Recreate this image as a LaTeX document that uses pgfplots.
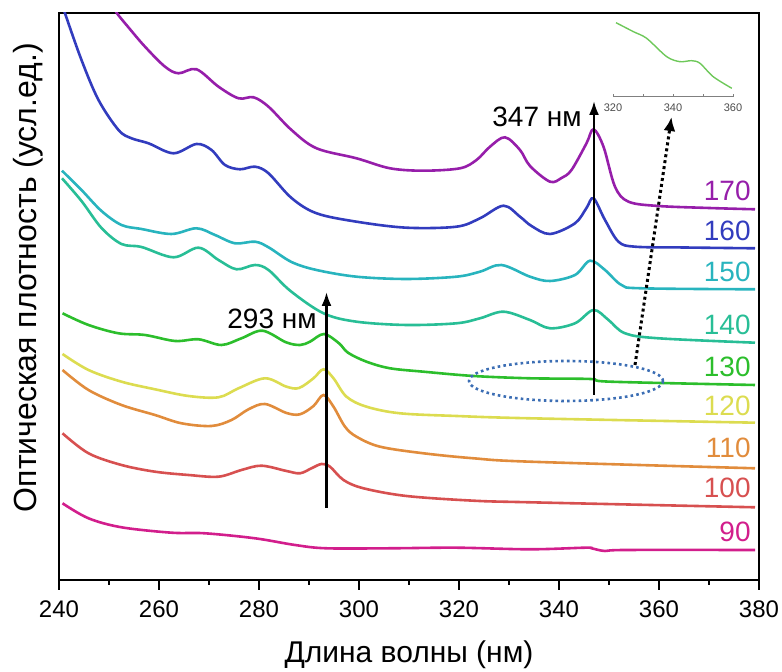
\documentclass[border=0pt]{standalone}
\usepackage{fontspec}
\setmainfont{Liberation Sans}
\usepackage{pgfplots}
\pgfplotsset{compat=1.18}
\usetikzlibrary{arrows.meta}

\definecolor{c170}{HTML}{961EAA}
\definecolor{c160}{HTML}{323CBE}
\definecolor{c150}{HTML}{28B4BE}
\definecolor{c140}{HTML}{28BE96}
\definecolor{c130}{HTML}{2CBE2C}
\definecolor{c120}{HTML}{DCDC50}
\definecolor{c110}{HTML}{E18C3C}
\definecolor{c100}{HTML}{D75050}
\definecolor{c90}{HTML}{D21E8C}
\definecolor{cinset}{HTML}{6EC85A}
\definecolor{cell}{HTML}{3C6EB4}

% y values are the negated pixel rows of the reference (arbitrary units, shifted curves)
\begin{document}
\begin{tikzpicture}
\useasboundingbox (-29.5pt,-46pt) rectangle (361.5pt,290pt);
\begin{axis}[
  scale only axis, width=350pt, height=283.5pt,
  xmin=240, xmax=380, ymin=-580, ymax=-13,
  xtick={240,260,...,380}, minor x tick num=1,
  ytick=\empty,
  xtick pos=bottom, tick align=outside,
  major tick length=5pt, minor tick length=2.5pt,
  axis line style={line width=1pt},
  every tick/.style={black, line width=0.8pt},
  ticklabel style={font=\fontsize{12}{14}\selectfont},
  xticklabel style={yshift=-2pt},
  /pgf/number format/assume math mode=true,
  xlabel={Длина волны (нм)},
  ylabel={Оптическая плотность (усл.ед.)},
  xlabel style={font=\fontsize{15}{18}\selectfont, at={(axis description cs:0.5,-0.132)}, anchor=center},
  ylabel style={font=\fontsize{16}{18}\selectfont, at={(axis description cs:-0.044,0.533)}, anchor=center},
  every axis plot/.append style={line width=1.3pt, smooth, tension=0.55, no markers},
]
% 170
\addplot[c170] coordinates {
(250.8,-5)(251.6,-13.3)(254,-28)(257.2,-46.7)(261.2,-66.7)(263.9,-73.3)(267.5,-69.3)(271.9,-86.7)
(275.9,-98.3)(278.9,-97.3)(281.9,-106.7)(286.5,-130)(291.5,-148.3)(299.5,-158.3)(306.2,-168.3)
(312.9,-170.7)(320.2,-168.3)(323.5,-160)(326.2,-146.7)(329.2,-137.3)(332.2,-150)(334.2,-166)
(338.2,-181.7)(340.5,-178)(342.5,-170)(345.5,-143.3)(346.9,-129.3)(348.9,-146.7)(351.2,-186.7)
(353.9,-201.7)(359.9,-206)(370,-208)(379.2,-209.3)};
% 160
\addplot[c160] coordinates {
(240.9,-8)(241.2,-13.3)(244.5,-60)(247.9,-100)(251.9,-130)(254.5,-138.3)(257.9,-143.3)(262.9,-153.3)
(267.5,-144)(270.5,-150)(273.2,-165)(276.2,-169.3)(279.2,-166.7)(281.9,-173.3)(286.5,-198)
(291.5,-213.3)(299.5,-221.7)(309.5,-227.7)(319.5,-226.7)(324.2,-218.3)(328.9,-205.7)(332.2,-216.7)
(334.5,-226)(338.2,-234)(343.2,-223.3)(345.5,-208)(346.9,-198.3)(349.2,-220)(351.9,-241.7)
(355.2,-246.7)(365,-247.5)(379.2,-248.3)};
% 150
\addplot[c150] coordinates {
(240.6,-170.7)(244.5,-190)(248.5,-211)(252.5,-225)(256.5,-229)(262.5,-234)(267.5,-228.3)
(271.2,-235)(275.2,-243.3)(279.2,-241.7)(281.9,-247.3)(286.5,-262)(291.5,-270)(299.5,-276.7)
(309.5,-279)(319.5,-276.7)(324.2,-271.7)(328.5,-265)(334.2,-276.7)(338.2,-281)(343.2,-275)
(346.2,-260.7)(349.2,-270)(352.5,-285)(356.5,-288.3)(379.2,-289.3)};
% 140
\addplot[c140] coordinates {
(240.6,-178.3)(244.5,-201)(248.5,-228)(252.5,-244)(256.5,-247)(262.9,-257.3)(267.9,-247.7)
(271.9,-260)(275.5,-269.3)(279.2,-265)(281.9,-270)(286.3,-291)(292.9,-313.3)(299.5,-321.7)
(309.5,-325)(319.5,-323.3)(324.2,-318.3)(328.9,-311.7)(334.2,-320)(338.2,-328.3)(343.2,-323.3)
(346.9,-310)(349.9,-320)(353.2,-333.3)(359.9,-338.3)(379.2,-342.7)};
% 130
\addplot[c130] coordinates {
(240.7,-313.3)(245.9,-325)(251.9,-333.3)(257.2,-335)(263.2,-341)(267.9,-339.3)(272.5,-345)
(276.5,-338.3)(280.7,-330.7)(285.4,-342.3)(288.2,-345)(290.2,-341.7)(293,-334)(296,-343.3)
(297.8,-352.7)(301.5,-361.7)(306.2,-368.3)(312.9,-371.7)(322.9,-376)(334.2,-378.3)(346.3,-379)
(350.3,-381.7)(379.2,-385)};
% 120
\addplot[c120] coordinates {
(240.7,-354)(245.9,-370)(252.5,-381.7)(259.2,-389.3)(265.9,-396)(271.9,-397.3)(275.9,-388.3)
(281.2,-378.3)(285.5,-386.7)(288,-388)(290.9,-378.3)(292.9,-369.3)(294.9,-378.3)(297.5,-396.7)
(301.5,-406.7)(308.2,-413.3)(319.5,-416)(334.2,-418.3)(379.2,-422.7)};
% 110
\addplot[c110] coordinates {
(240.7,-370)(245.9,-390)(252.5,-405)(259.2,-415)(264.5,-423.3)(270.5,-426)(274.5,-420)
(277.9,-409.3)(281.2,-404)(285.5,-413)(288.2,-414.3)(290.9,-406)(292.9,-395)(294.9,-406.7)
(297.2,-426.7)(299.5,-436.7)(304.2,-446.7)(312.9,-453.3)(322.9,-458.3)(334.2,-461.7)(379.2,-468.3)};
% 100
\addplot[c100] coordinates {
(240.7,-433.3)(245.9,-453.3)(252.5,-465)(259.2,-471.7)(265.9,-475)(271.9,-476.7)(276.5,-470)
(280.5,-465.7)(285.5,-471)(288.2,-473.3)(290.5,-468.3)(292.5,-464)(294.2,-466.7)(296.9,-480)
(300.9,-488.3)(309.5,-496)(322.9,-500.7)(334.2,-502.3)(379.2,-507.3)};
% 90
\addplot[c90] coordinates {
(240.7,-503.3)(245.9,-518.3)(252.5,-527.3)(262.5,-532.7)(269.2,-533.3)(279.2,-538.3)(287.2,-545)
(293.5,-548.3)(306.2,-548.3)(319.5,-547.7)(334.2,-549.3)(345.2,-547.7)(346.5,-548.3)(349.2,-551)
(353.2,-550)(379.2,-550)};

% sample labels
\begin{scope}[every node/.style={anchor=east, inner sep=0pt, font=\fontsize{14}{16}\selectfont}]
\node[text=c170] at (axis cs:378.4,-190.7) {170};
\node[text=c160] at (axis cs:378.4,-231) {160};
\node[text=c150] at (axis cs:378.4,-271.7) {150};
\node[text=c140] at (axis cs:378.4,-325) {140};
\node[text=c130] at (axis cs:378.4,-366.7) {130};
\node[text=c120] at (axis cs:378.4,-406) {120};
\node[text=c110] at (axis cs:378.4,-448) {110};
\node[text=c100] at (axis cs:378.4,-488) {100};
\node[text=c90]  at (axis cs:378.4,-531.7) {90};
\end{scope}

% annotations
\draw[line width=1.2pt, -{Latex[length=7pt, width=5pt]}] (axis cs:293.5,-508) -- (axis cs:293.5,-292);
\draw[line width=1.2pt, -{Latex[length=7pt, width=5pt]}] (axis cs:347,-395) -- (axis cs:347,-101);
\node[font=\fontsize{14}{16}\selectfont, inner sep=0pt] at (axis cs:282.6,-319) {293 нм};
\node[font=\fontsize{14}{16}\selectfont, inner sep=0pt] at (axis cs:335.6,-117) {347 нм};
\draw[cell, line width=1.3pt, dash pattern=on 1.3pt off 1.6pt]
  (axis cs:341.4,-381) ellipse [x radius=48.5pt, y radius=10pt];
\draw[line width=1.5pt, dash pattern=on 1.5pt off 1.5pt, -{Latex[length=7pt, width=6pt, sep=0pt]}]
  (axis cs:355.2,-365) -- (axis cs:362.5,-117);
\end{axis}

% inset
\begin{axis}[
  at={(277pt,241.65pt)}, anchor=south west,
  scale only axis, width=60pt, height=38.35pt,
  xmin=320, xmax=360, ymin=-96.7, ymax=-20,
  axis x line*=bottom, axis y line=none,
  xtick={320,340,360}, minor xtick={330,350},
  tick align=inside, major tick length=1.5pt, minor tick length=1.5pt,
  axis line style={gray, line width=0.5pt},
  every tick/.style={gray, line width=0.5pt},
  xticklabel style={font=\fontsize{5.5}{6}\selectfont, text=black!70},
  /pgf/number format/assume math mode=true,
]
\addplot[cinset, line width=0.7pt, smooth, tension=0.5, no markers] coordinates {
(321,-22.7)(326.8,-31.7)(331.2,-38.3)(337.9,-56.7)(342.3,-61.7)(346.2,-60.7)(349,-63.3)
(353.4,-76.7)(359.6,-88.3)};
\end{axis}
\end{tikzpicture}
\end{document}
